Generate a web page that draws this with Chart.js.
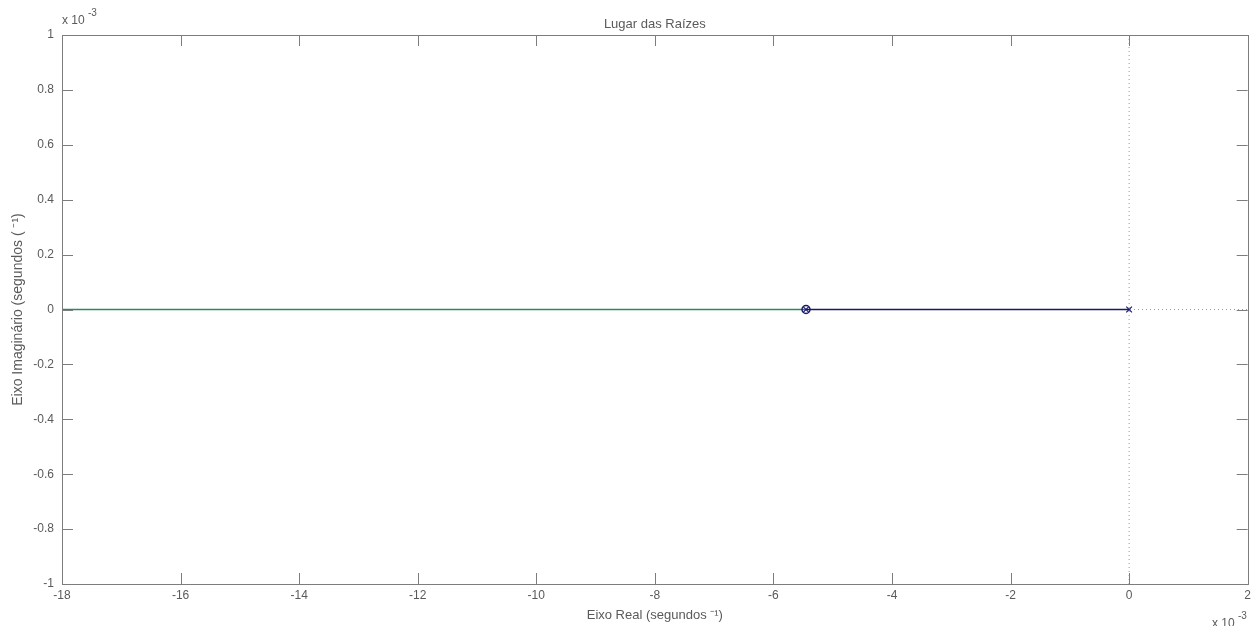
<!DOCTYPE html>
<html>
<head>
<meta charset="utf-8">
<script src="https://cdn.jsdelivr.net/npm/chart.js@4"></script>
<style>
  html, body { margin: 0; padding: 0; background: #ffffff; }
  #wrap { width: 1255px; height: 626px; }
</style>
</head>
<body>
<div id="wrap"><canvas id="lugar_raizes"></canvas></div>
<script>
// valores em unidades de 10^-3 (o fator vai escrito nos cantos, como no matlab)
const xTicks = [-18, -16, -14, -12, -10, -8, -6, -4, -2, 0, 2];
const yTicks = [-1, -0.8, -0.6, -0.4, -0.2, 0, 0.2, 0.4, 0.6, 0.8, 1];
const ramoVerdeX = [-18, -5.45];
const ramoAzulX = [-5.45, 0];
const polosX = [0, -5.45];
const zerosX = [-5.45];

const ctx = document.getElementById('lugar_raizes');

const cinzaTexto = '#5a5a5a';
const fonte = 'Liberation Sans, Arial, sans-serif';

const moldura = { // desenha a caixa, os ticks pra dentro e o titulo
    id: 'moldura',
    afterDraw(chart) {
        const c = chart.ctx;
        const a = chart.chartArea;
        const sx = chart.scales.x;
        const sy = chart.scales.y;
        const len = 11;
        c.save();
        c.strokeStyle = '#7d7d7d';
        c.lineWidth = 1;
        c.beginPath();
        xTicks.forEach(v => {
            const px = Math.round(sx.getPixelForValue(v)) + 0.5;
            c.moveTo(px, a.bottom); c.lineTo(px, a.bottom - len);
            c.moveTo(px, a.top); c.lineTo(px, a.top + len);
        });
        yTicks.forEach(v => {
            const py = Math.round(sy.getPixelForValue(v)) + 0.5;
            c.moveTo(a.left, py); c.lineTo(a.left + len, py);
            c.moveTo(a.right, py); c.lineTo(a.right - len, py);
        });
        c.stroke();
        c.strokeRect(Math.round(a.left) + 0.5, Math.round(a.top) + 0.5,
            Math.round(a.right - a.left), Math.round(a.bottom - a.top));

        c.fillStyle = cinzaTexto;
        c.textBaseline = 'alphabetic';
        c.textAlign = 'center';
        c.font = '13px ' + fonte;
        c.fillText('Lugar das Raízes', (a.left + a.right) / 2, 28);

        // fator de escala, canto superior esquerdo
        c.textAlign = 'left';
        c.font = '12px ' + fonte;
        c.fillText('x 10', 62, 24);
        c.font = '10px ' + fonte;
        c.fillText('-3', 88, 16);
        // canto inferior direito
        c.font = '12px ' + fonte;
        c.fillText('x 10', 1212, 627);
        c.font = '10px ' + fonte;
        c.fillText('-3', 1238, 619);
        c.restore();
    }
};

function pontos(xs) {
    return xs.map(x => ({ x: x, y: 0 }));
}

new Chart(ctx, {
    type: 'scatter',
    data: {
        datasets: [{
            label: 'Polos',
            data: pontos(polosX),
            showLine: false,
            pointStyle: 'crossRot',
            pointRadius: 4,
            borderColor: '#1a1a6a',
            borderWidth: 1.2,
            order: 0
        },
        {
            label: 'Zeros',
            data: pontos(zerosX),
            showLine: false,
            pointStyle: 'circle',
            pointRadius: 4,
            backgroundColor: 'rgba(0,0,0,0)',
            borderColor: '#1a1a6a',
            borderWidth: 1.5,
            order: 1
        },
        {
            label: 'Ramo 1',
            data: pontos(ramoAzulX),
            showLine: true,
            pointRadius: 0,
            borderColor: '#1a1a6a',
            borderWidth: 1.3,
            order: 2
        },
        {
            label: 'Ramo 2',
            data: pontos(ramoVerdeX),
            showLine: true,
            pointRadius: 0,
            borderColor: '#2e8a5a',
            borderWidth: 1.3,
            order: 3
        },
        {
            label: 'Eixo real',
            data: pontos([xTicks[0], xTicks[xTicks.length - 1]]),
            showLine: true,
            pointRadius: 0,
            borderColor: '#9a9a9a',
            borderWidth: 1,
            borderDash: [1, 3],
            order: 4
        },
        {
            label: 'Eixo imaginário',
            data: [{ x: 0, y: yTicks[0] }, { x: 0, y: yTicks[yTicks.length - 1] }],
            showLine: true,
            pointRadius: 0,
            borderColor: '#9a9a9a',
            borderWidth: 1,
            borderDash: [1, 3],
            order: 5
        }]
    },
    options: {
        responsive: true,
        maintainAspectRatio: false,
        animation: false,
        layout: {
            padding: { top: 35, right: 7, left: 0, bottom: 0 }
        },
        scales: {
            x: {
                type: 'linear',
                min: xTicks[0],
                max: xTicks[xTicks.length - 1],
                afterBuildTicks: s => { s.ticks = xTicks.map(v => ({ value: v })); },
                afterFit: s => { s.height = 42; },
                grid: { display: false, drawTicks: false },
                border: { display: false },
                ticks: {
                    padding: 4,
                    color: cinzaTexto,
                    font: { family: fonte, size: 12 },
                    maxRotation: 0,
                    callback: v => String(v)
                },
                title: {
                    display: true,
                    text: 'Eixo Real (segundos ⁻¹)',
                    color: cinzaTexto,
                    font: { family: fonte, size: 13 },
                    padding: { top: 0, bottom: 3 }
                }
            },
            y: {
                type: 'linear',
                min: yTicks[0],
                max: yTicks[yTicks.length - 1],
                afterBuildTicks: s => { s.ticks = yTicks.map(v => ({ value: v })); },
                afterFit: s => { s.width = 62; },
                grid: { display: false, drawTicks: false },
                border: { display: false },
                ticks: {
                    padding: 8,
                    color: cinzaTexto,
                    font: { family: fonte, size: 12 },
                    callback: v => String(Math.round(v * 10) / 10)
                },
                title: {
                    display: true,
                    text: 'Eixo Imaginário (segundos ( ⁻¹)',
                    color: cinzaTexto,
                    font: { family: fonte, size: 14 },
                    padding: { top: 10, bottom: 0 }
                }
            }
        },
        plugins: {
            legend: { display: false },
            title: { display: false },
            tooltip: { enabled: false }
        }
    },
    plugins: [moldura]
});
</script>
</body>
</html>
